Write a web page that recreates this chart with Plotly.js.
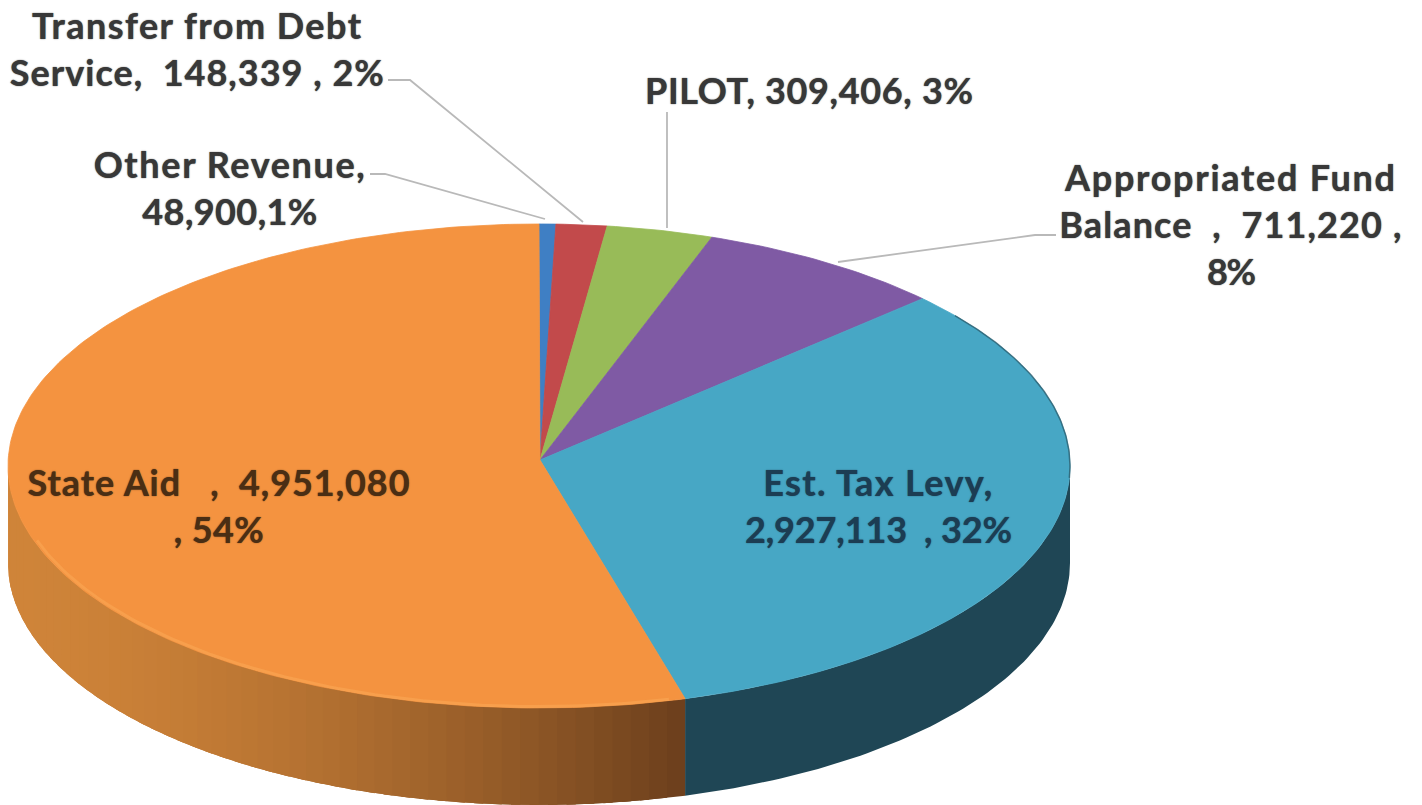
<!DOCTYPE html>
<html>
<head>
<meta charset="utf-8">
<script src="https://cdn.plot.ly/plotly-3.0.1.min.js"></script>
<style>html,body{margin:0;padding:0;background:#fff;overflow:hidden}#chart{width:1422px;height:805px}</style>
</head>
<body>
<div id="chart"></div>
<script>
// Data, clockwise from twelve o'clock
const categories = ["Other Revenue", "Transfer from Debt Service", "PILOT", "Appropriated Fund Balance", "Est. Tax Levy", "State Aid"];
const values = [48900, 148339, 309406, 711220, 2927113, 4951080];
const faceColors = ["#3f7fc4", "#c24a4b", "#98bb58", "#7f5aa4", "#47a7c5", "#f49340"];
const wallColors = ["#2a5480", "#7e2f30", "#64793a", "#523a6b", "#1f4655", "#b06a2e"];

// Label text and placement
const labelTexts = [
  "Other Revenue,<br>48,900,1%",
  "Transfer from Debt<br>Service,  148,339 , 2%",
  "PILOT, 309,406, 3%",
  "Appropriated Fund<br>Balance  ,  711,220 ,<br>8%",
  "Est. Tax Levy,<br>2,927,113  , 32%",
  "State Aid   ,  4,951,080<br>, 54%"
];
const labelX = [230, 197, 809, 1231, 878, 219];
const labelY = [187, 48, 90, 224, 505, 505];
const labelColors = ["#383838", "#383838", "#383838", "#383838", "#1c3d53", "#4a2e14"];
const labelLineWidths = [[271, 175], [329, 374], [328], [330, 342, 49], [229, 267], [382, 90]];
const leaderX = [[370, 385, 545], [388, 410, 583], [667, 667], [1056, 1035, 838]];
const leaderY = [[174, 174, 219], [80, 80, 222], [112, 228], [235, 235, 262]];

// Pie geometry in axis units
const cx = 539, cy = 466, rx = 531, ry = 242, apexX = 540, apexY = 460, depth = 97, foreshorten = 0.055;
const wallShadeLeft = [207, 132, 57], wallShadeRight = [108, 63, 28];

const total = values.reduce((a, b) => a + b, 0);
const ex = t => cx + rx * Math.sin(t);
const ey = t => cy - ry * Math.cos(t);
const angleStops = [0];
let running = 0;
values.forEach(v => {
  running += v / total * 2 * Math.PI;
  const t = running;
  angleStops.push(t - foreshorten * Math.sin(t) * Math.pow(Math.cos(t / 2), 2));
});

function range(a, b, n) { const o = []; for (let i = 0; i <= n; i++) o.push(a + (b - a) * i / n); return o; }
const traces = [];
function poly(xs, ys, color, name, lineWidth) {
  traces.push({type: "scatter", mode: "lines", x: xs, y: ys, fill: "toself", fillcolor: color,
    line: {color: color, width: lineWidth}, hoverinfo: name ? "text" : "skip", text: name || "", showlegend: false});
}
function wallPoly(a, b, color, n) {
  const ts = range(a, b, n);
  poly(ts.map(ex).concat(ts.slice().reverse().map(ex)),
       ts.map(ey).concat(ts.slice().reverse().map(t => ey(t) + depth)), color, null, 0);
}
// Front walls (only the near half of the disc shows)
values.forEach((v, i) => {
  const a = Math.max(angleStops[i], Math.PI / 2), b = Math.min(angleStops[i + 1], 3 * Math.PI / 2);
  if (b <= a) return;
  if (categories[i] === "State Aid") {
    const n = Math.ceil((b - a) / (Math.PI / 90)), step = (b - a) / n;
    for (let k = 0; k < n; k++) {
      const t0 = a + k * step, t1 = Math.min(b, t0 + 2.5 * step);
      const f = Math.max(0, Math.min(1, (685 - ex(t0 + step / 2)) / (685 - 8)));
      const g = Math.pow(1 - f, 1.6);
      const c = wallShadeLeft.map((l, m) => Math.round(l + (wallShadeRight[m] - l) * g));
      wallPoly(t0, t1, `rgb(${c.join(",")})`, 4);
    }
  } else {
    wallPoly(a, b, wallColors[i], 80);
  }
});
// Top face
values.forEach((v, i) => {
  const ts = range(angleStops[i], angleStops[i + 1], Math.max(6, Math.ceil((angleStops[i + 1] - angleStops[i]) * 60)));
  poly([apexX].concat(ts.map(ex), [apexX]), [apexY].concat(ts.map(ey), [apexY]), faceColors[i],
    `${categories[i]}: ${v.toLocaleString("en-US")}`, 0.8);
});
// Soft rim on the face edge
function rim(a, b, color, width, s) {
  const ts = range(a, b, 80);
  traces.push({type: "scatter", mode: "lines", x: ts.map(t => cx + rx * s * Math.sin(t)), y: ts.map(t => cy - ry * s * Math.cos(t)),
    line: {color: color, width: width}, hoverinfo: "skip", showlegend: false});
}
rim(angleStops[5] + 0.03, 1.4 * Math.PI, "rgba(252,172,88,0.5)", 3, 0.994);
rim(0.9, 1.62, "rgba(40,90,105,0.75)", 1.5, 1.0);
// Leader lines
leaderX.forEach((xs, i) => traces.push({type: "scatter", mode: "lines", x: xs, y: leaderY[i],
  line: {color: "#b9b9b9", width: 1.8}, hoverinfo: "skip", showlegend: false}));

const annotations = labelTexts.map((t, i) => ({
  text: t, x: labelX[i], y: labelY[i], xref: "x", yref: "y", xanchor: "center", yanchor: "middle",
  showarrow: false, align: "center",
  font: {family: "Lato, 'Open Sans', sans-serif", size: 36, color: labelColors[i], weight: 700,
         shadow: `0 0 1.2px ${labelColors[i]}`}
}));

Plotly.newPlot("chart", traces, {
  width: 1422, height: 805, margin: {l: 0, r: 0, t: 0, b: 0},
  paper_bgcolor: "#ffffff", plot_bgcolor: "#ffffff", showlegend: false,
  xaxis: {range: [0, 1422], visible: false, fixedrange: true},
  yaxis: {range: [805, 0], visible: false, fixedrange: true},
  annotations: annotations
}, {displayModeBar: false}).then(gd => {
  // Fit each label line to its width in the picture
  gd.querySelectorAll(".annotation-text-g text.annotation-text").forEach((node, i) => {
    const tspans = node.querySelectorAll("tspan.line");
    const lines = tspans.length ? Array.from(tspans) : [node];
    lines.forEach((el, k) => {
      const want = labelLineWidths[i][k], have = el.getComputedTextLength(), chars = el.textContent.length;
      if (want && chars > 1) el.style.letterSpacing = ((want - have) / (chars - 1)).toFixed(3) + "px";
    });
  });
});
</script>
</body>
</html>
